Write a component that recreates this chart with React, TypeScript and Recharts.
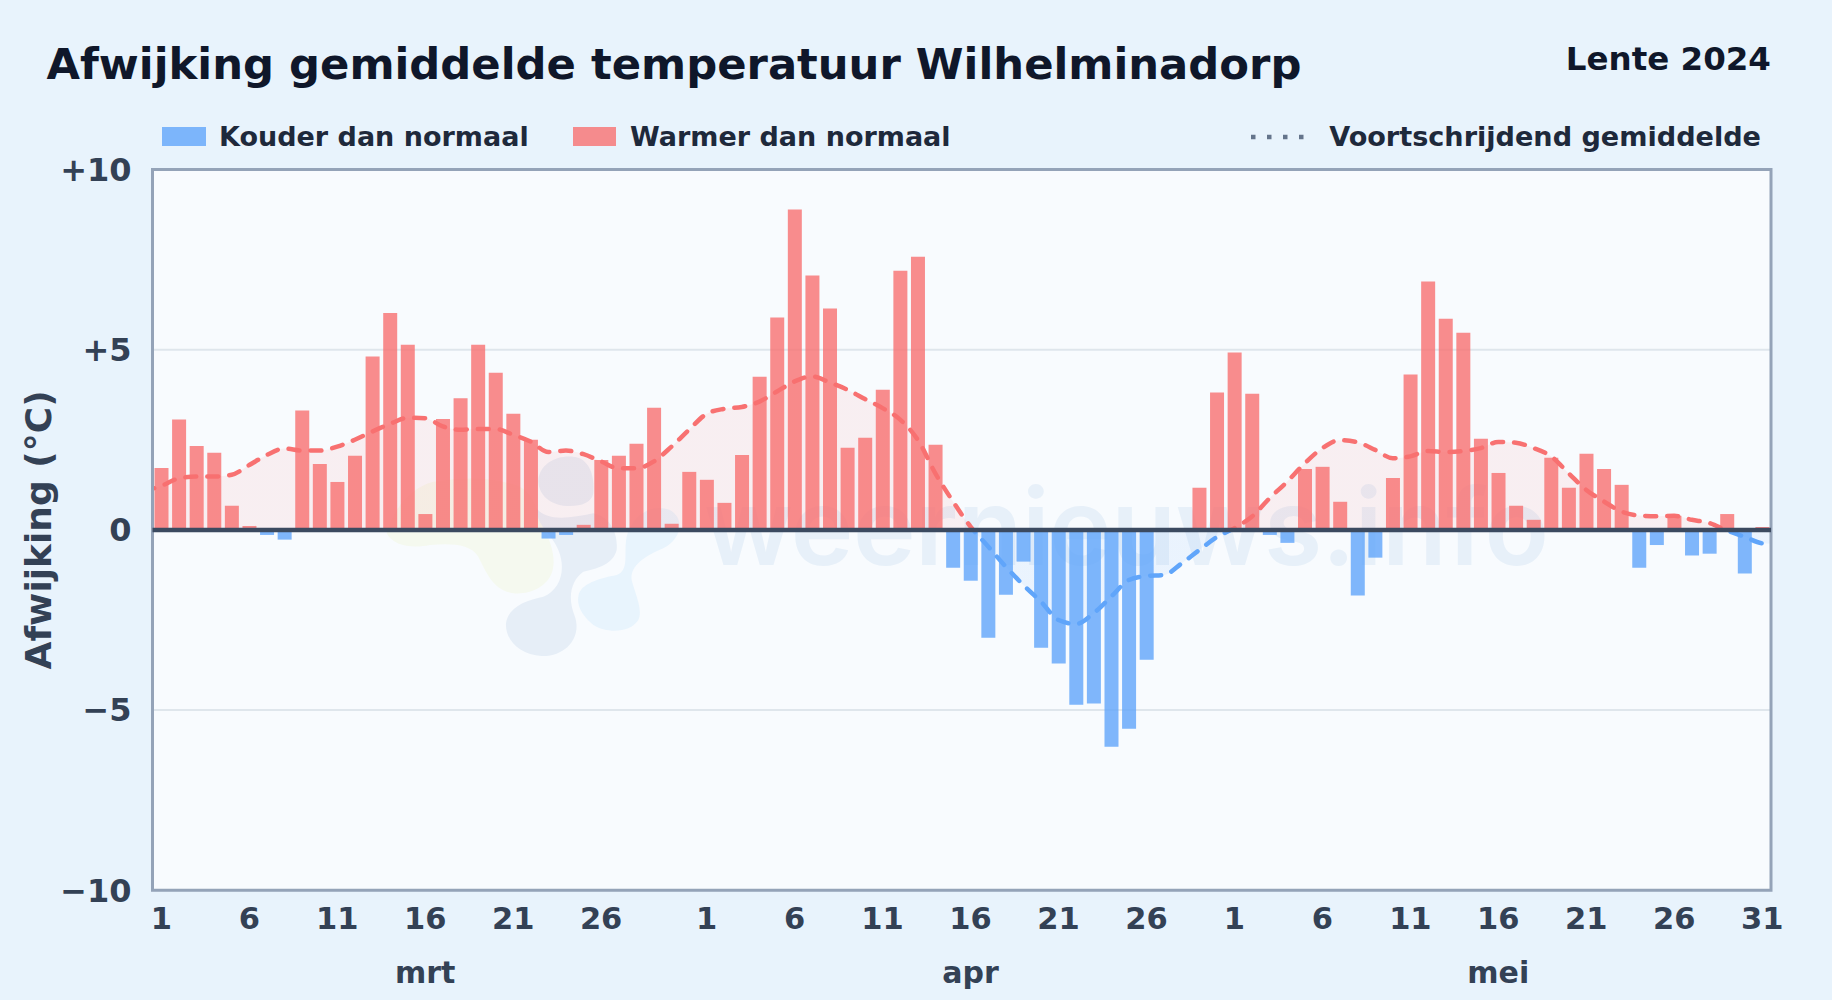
import { ComposedChart, Area, Bar, Cell, XAxis, YAxis, CartesianGrid, ReferenceLine, ReferenceArea } from "recharts";

const FONT = '"DejaVu Sans", sans-serif';

// daily departure from normal, 1 mar - 31 mei
const deviationMar = [1.72, 3.06, 2.33, 2.14, 0.67, 0.11, -0.14, -0.27, 3.31, 1.83, 1.33, 2.06, 4.81, 6.02, 5.14, 0.44, 3.08, 3.65, 5.14, 4.36, 3.22, 2.5, -0.24, -0.14, 0.14, 1.94, 2.06, 2.39, 3.39, 0.17, 1.61];
const deviationApr = [1.39, 0.75, 2.08, 4.25, 5.89, 8.89, 7.06, 6.14, 2.28, 2.56, 3.89, 7.19, 7.58, 2.36, -1.05, -1.41, -2.99, -1.8, -0.88, -3.27, -3.71, -4.85, -4.82, -6.02, -5.52, -3.6, -0.05, 0, 1.17, 3.81];
const deviationMay = [4.92, 3.78, -0.14, -0.36, 1.69, 1.75, 0.78, -1.82, -0.77, 1.44, 4.31, 6.89, 5.86, 5.47, 2.53, 1.58, 0.67, 0.28, 2.0, 1.17, 2.11, 1.69, 1.25, -1.05, -0.42, 0.39, -0.71, -0.66, 0.44, -1.21, 0.08];

// running mean, same days
const meanMar = [1.22, 1.43, 1.48, 1.48, 1.53, 1.8, 2.08, 2.26, 2.2, 2.2, 2.31, 2.5, 2.73, 2.94, 3.11, 3.1, 2.87, 2.78, 2.8, 2.8, 2.64, 2.45, 2.16, 2.2, 2.1, 1.9, 1.71, 1.71, 1.9, 2.31, 2.78];
const meanApr = [3.22, 3.36, 3.41, 3.56, 3.84, 4.12, 4.26, 4.09, 3.89, 3.63, 3.38, 3.06, 2.5, 1.57, 0.79, 0.09, -0.46, -1.02, -1.53, -1.99, -2.5, -2.61, -2.31, -1.85, -1.39, -1.28, -1.25, -0.93, -0.56, -0.2];
const meanMay = [0.05, 0.37, 0.88, 1.34, 1.85, 2.27, 2.49, 2.43, 2.22, 1.99, 2.04, 2.19, 2.16, 2.19, 2.27, 2.44, 2.42, 2.27, 2.04, 1.57, 1.11, 0.79, 0.51, 0.4, 0.38, 0.39, 0.28, 0.19, -0.02, -0.19, -0.37];
const meanEdges = [1.08, -0.39]; // running mean one day outside the frame, clipped by the plot

const dayTicks = [1, 6, 11, 16, 21, 26, 32, 37, 42, 47, 52, 57, 62, 67, 72, 77, 82, 87, 92];
const dayLabels = ["1", "6", "11", "16", "21", "26", "1", "6", "11", "16", "21", "26", "1", "6", "11", "16", "21", "26", "31"];
const monthTicks = [16, 47, 77];
const monthLabels = ["mrt", "apr", "mei"];
const valueTicks = [-10, -5, 0, 5, 10];
const valueLabels = ["\u221210", "\u22125", "0", "+5", "+10"];

const deviation = [...deviationMar, ...deviationApr, ...deviationMay];
const mean = [...meanMar, ...meanApr, ...meanMay];
const rows = [
  { day: 0, mean: meanEdges[0], value: null as number | null },
  ...deviation.map((value, i) => ({ day: i + 1, value, mean: mean[i] })),
  { day: 93, mean: meanEdges[1], value: null as number | null },
];

const WARM = "#f87171";
const COLD = "#60a5fa";
const PLOT = { left: 152.5, top: 169.5, right: 1771, bottom: 890.3 };

// page furniture that sits behind the chart
function Backdrop() {
  return (
    <svg width={1832} height={1000} style={{ position: "absolute", left: 0, top: 0 }} fontFamily={FONT}>
      <rect width={1832} height={1000} fill="#e8f3fc" />
      <text x={46.5} y={79} fontSize={43.3} fontWeight={700} fill="#0f172a">Afwijking gemiddelde temperatuur Wilhelminadorp</text>
      <text x={1771} y={70} fontSize={32.5} fontWeight={700} fill="#0f172a" textAnchor="end">Lente 2024</text>

      <rect x={162} y={127} width={44} height={19} fill={COLD} fillOpacity={0.8} />
      <text x={219} y={146} fontSize={27} fontWeight={700} fill="#1e293b">Kouder dan normaal</text>
      <rect x={573} y={127} width={43} height={19} fill={WARM} fillOpacity={0.8} />
      <text x={630} y={146} fontSize={27} fontWeight={700} fill="#1e293b">Warmer dan normaal</text>
      <line x1={1251} x2={1308} y1={137} y2={137} stroke="#64748b" strokeWidth={4.5} strokeDasharray="4.5 11.5" />
      <text x={1761} y={146} fontSize={27.1} fontWeight={700} fill="#1e293b" textAnchor="end">Voortschrijdend gemiddelde</text>

      <rect x={PLOT.left} y={PLOT.top} width={PLOT.right - PLOT.left} height={PLOT.bottom - PLOT.top} fill="#f8fbfe" />

      {/* watermark */}
      <g transform="translate(380 420) scale(0.3333)">
        <path d="M20 340 C40 260 100 200 160 185 C260 170 340 170 420 200 C470 230 470 280 490 320 C515 370 530 420 515 460 C500 500 450 525 400 520 C340 510 320 460 295 410 C270 370 210 370 150 375 C100 385 40 380 20 340 Z" fill="#f5f9ef" />
        <path d="M470 265 C500 305 570 295 640 280 C690 290 715 340 710 390 C700 430 660 445 610 455 C575 480 560 530 585 590 C605 650 560 710 485 708 C420 705 375 660 378 610 C385 560 440 540 490 530 C540 510 560 450 535 390 C515 340 470 320 470 265 Z" fill="#e6eef7" />
        <path d="M475 180 C480 130 530 105 580 110 C630 115 645 170 640 220 C635 250 600 260 560 258 C510 255 475 225 475 180 Z" fill="#e6eef7" />
        <path d="M595 530 C600 490 660 475 710 465 C750 450 730 400 740 350 C760 280 820 250 870 270 C920 300 900 360 850 385 C790 410 750 440 755 480 C765 520 790 570 775 600 C750 640 680 640 640 615 C610 590 590 560 595 530 Z" fill="#e8f4fd" />
      </g>
      <text x={704} y={565} fontFamily="Inter, sans-serif" fontSize={106} fontWeight={600} fill="#e7f0f9" textLength={845} lengthAdjust="spacing">weernieuws.info</text>
    </svg>
  );
}

export default function App() {
  return (
    <div style={{ position: "absolute", left: 0, top: 0, width: 1832, height: 1000, fontFamily: FONT }}>
      <Backdrop />
      <div style={{ position: "absolute", left: 0, top: 0 }}>
        <ComposedChart width={1832} height={1000} data={rows} margin={{ top: PLOT.top, right: 1832 - PLOT.right, bottom: 9.7, left: 0 }}>
          <defs>
            <linearGradient id="meanStroke" gradientUnits="userSpaceOnUse" x1={0} x2={0} y1={PLOT.top} y2={PLOT.bottom}>
              <stop offset="50%" stopColor={WARM} />
              <stop offset="50%" stopColor={COLD} />
            </linearGradient>
            <linearGradient id="meanFill" gradientUnits="userSpaceOnUse" x1={0} x2={0} y1={PLOT.top} y2={PLOT.bottom}>
              <stop offset="50%" stopColor={WARM} stopOpacity={0.15} />
              <stop offset="50%" stopColor={COLD} stopOpacity={0.15} />
            </linearGradient>
          </defs>
          <CartesianGrid vertical={false} stroke="#dfe6ec" strokeWidth={2} />
          <XAxis
            dataKey="day"
            type="number"
            domain={[0.5, 92.5]}
            allowDataOverflow
            ticks={dayTicks}
            interval={0}
            height={50}
            axisLine={false}
            tickLine={false}
            tickMargin={11}
            tick={{ fill: "#334155", fontSize: 30.5, fontWeight: 700 }}
            tickFormatter={(v: number) => dayLabels[dayTicks.indexOf(v)]}
          />
          <XAxis
            xAxisId="month"
            dataKey="day"
            type="number"
            domain={[0.5, 92.5]}
            allowDataOverflow
            ticks={monthTicks}
            interval={0}
            height={50}
            axisLine={false}
            tickLine={false}
            tickMargin={15}
            tick={{ fill: "#334155", fontSize: 30, fontWeight: 700 }}
            tickFormatter={(v: number) => monthLabels[monthTicks.indexOf(v)]}
          />
          <YAxis
            type="number"
            domain={[-10, 10]}
            ticks={valueTicks}
            interval={0}
            width={PLOT.left}
            axisLine={false}
            tickLine={false}
            tickMargin={15}
            tick={{ fill: "#334155", fontSize: 32, fontWeight: 700 }}
            tickFormatter={(v: number) => valueLabels[valueTicks.indexOf(v)]}
            label={{ value: "Afwijking (\u00b0C)", angle: -90, position: "insideLeft", offset: 38, style: { textAnchor: "middle", fill: "#334155", fontSize: 36, fontWeight: 700 } }}
          />
          <Area
            dataKey="mean"
            type="monotone"
            baseValue={0}
            stroke="url(#meanStroke)"
            strokeWidth={4.5}
            strokeDasharray="11 11"
            strokeLinecap="round"
            fill="url(#meanFill)"
            dot={false}
            activeDot={false}
            isAnimationActive={false}
          />
          <Bar dataKey="value" barSize={14} isAnimationActive={false}>
            {rows.map((r, i) => (
              <Cell key={i} fill={(r.value ?? 0) < 0 ? COLD : WARM} fillOpacity={0.8} />
            ))}
          </Bar>
          <ReferenceLine y={0} stroke="#3b4a60" strokeWidth={4.5} />
          <ReferenceArea x1={0.5} x2={92.5} y1={-10} y2={10} fill="none" stroke="#94a3b8" strokeWidth={3} />
        </ComposedChart>
      </div>
    </div>
  );
}
